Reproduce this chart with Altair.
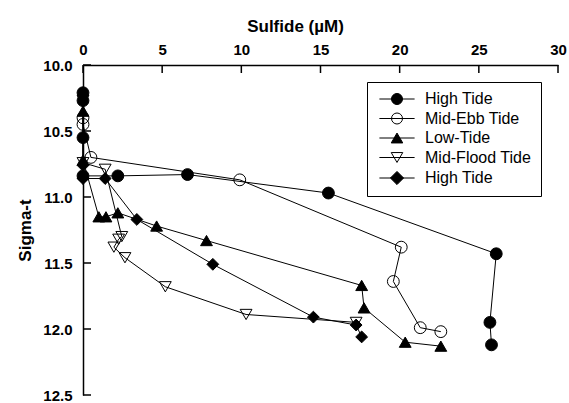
import altair as alt
import pandas as pd

# ---------------- data ----------------
series_ids = ["s1", "s2", "s3", "s4", "s5"]
series_names = ["High Tide", "Mid-Ebb Tide", "Low-Tide", "Mid-Flood Tide", "High Tide"]

ht1_x = [0, 0, 0, 0, 2.2, 6.6, 15.5, 26.1, 25.7, 25.8]
ht1_y = [10.21, 10.27, 10.55, 10.84, 10.84, 10.83, 10.97, 11.43, 11.95, 12.12]

ebb_x = [0, 0, 0.5, 9.9, 20.1, 19.6, 21.3, 22.6]
ebb_y = [10.40, 10.45, 10.70, 10.87, 11.38, 11.64, 11.99, 12.02]

low_x = [0, 0, 1.0, 1.45, 2.2, 4.65, 7.8, 17.6, 17.75, 20.35, 22.6]
low_y = [10.35, 10.72, 11.15, 11.15, 11.12, 11.22, 11.33, 11.67, 11.84, 12.10, 12.13]

flood_x = [0, 0, 1.4, 2.45, 2.25, 1.95, 2.65, 5.2, 10.3, 17.25]
flood_y = [10.27, 10.74, 10.79, 11.30, 11.32, 11.38, 11.46, 11.68, 11.89, 11.95]

ht2_x = [0, 0, 1.4, 3.4, 8.2, 14.55, 17.25, 17.6]
ht2_y = [10.76, 10.86, 10.86, 11.17, 11.51, 11.91, 11.97, 12.06]

x_ticks = [0, 5, 10, 15, 20, 25, 30]
y_ticks = [10.0, 10.5, 11.0, 11.5, 12.0, 12.5]

# ---------------- build table ----------------
rows = []
for sid, xs, ys in zip(series_ids,
                       [ht1_x, ebb_x, low_x, flood_x, ht2_x],
                       [ht1_y, ebb_y, low_y, flood_y, ht2_y]):
    for i, (xv, yv) in enumerate(zip(xs, ys)):
        rows.append({"sid": sid, "idx": i, "sulfide": xv, "sigma": yv})
df = pd.DataFrame(rows)

FONT = "Liberation Sans"

xscale = alt.Scale(domain=[0, 30], nice=False, zero=False)
yscale = alt.Scale(domain=[10, 12.5], reverse=True, nice=False, zero=False)

shape_range = ["circle", "circle", "triangle-up", "triangle-down", "diamond"]
fill_range = ["black", "transparent", "black", "transparent", "black"]
stroke_range = ["black"] * 5
size_range = [140, 140, 170, 170, 160]

L = 3.2
legend_paths = [
    f"M{-L},0L{L},0M1,0A1,1,0,1,1,-1,0A1,1,0,1,1,1,0Z",
    f"M{-L},0L{L},0M1,0A1,1,0,1,1,-1,0A1,1,0,1,1,1,0Z",
    f"M{-L},0L{L},0M0,-0.9L1.05,0.9L-1.05,0.9Z",
    f"M{-L},0L{L},0M0,0.9L1.05,-0.9L-1.05,-0.9Z",
    f"M{-L},0L{L},0M-1.2,0L0,-1.2L1.2,0L0,1.2Z",
]

label_expr = ""
for sid, name in zip(series_ids, series_names):
    label_expr += f"datum.label == '{sid}' ? '{name}' : "
label_expr += "datum.label"

xaxis = alt.Axis(orient="top", title="Sulfide (µM)", values=x_ticks, format="d",
                 ticks=False, grid=False, labelFlush=False, labelOverlap=False,
                 labelFont=FONT, labelFontWeight="bold", labelFontSize=15, labelColor="black",
                 labelPadding=8, titleFont=FONT, titleFontWeight="bold", titleFontSize=17,
                 titleColor="black", titlePadding=7, titleX=212,
                 domainColor="black", domainWidth=1.5)
yaxis = alt.Axis(orient="left", title="Sigma-t", values=y_ticks, format=".1f",
                 ticks=False, grid=False, labelFlush=False, labelOverlap=False,
                 labelFont=FONT, labelFontWeight="bold", labelFontSize=15, labelColor="black",
                 labelPadding=11, titleFont=FONT, titleFontWeight="bold", titleFontSize=17,
                 titleColor="black", titlePadding=8,
                 domainColor="black", domainWidth=1.5)

base = alt.Chart(df)

lines = base.mark_line(color="black", strokeWidth=1).encode(
    x=alt.X("sulfide:Q", scale=xscale, axis=xaxis),
    y=alt.Y("sigma:Q", scale=yscale, axis=yaxis),
    detail="sid:N",
    order="idx:Q",
)

points = base.mark_point(filled=True, stroke="black", strokeWidth=1, opacity=1).encode(
    x=alt.X("sulfide:Q", scale=xscale),
    y=alt.Y("sigma:Q", scale=yscale),
    shape=alt.Shape("sid:N", scale=alt.Scale(domain=series_ids, range=shape_range), legend=None),
    fill=alt.Fill("sid:N", scale=alt.Scale(domain=series_ids, range=fill_range), legend=None),
    size=alt.Size("sid:N", scale=alt.Scale(domain=series_ids, range=size_range), legend=None),
)

leg = alt.Legend(title=None, orient="none", legendX=284, legendY=17,
                 symbolSize=121, symbolStrokeWidth=1, symbolStrokeColor="black",
                 symbolOpacity=1, symbolOffset=13,
                 labelFont=FONT, labelFontSize=16, labelColor="black",
                 labelExpr=label_expr, labelOffset=20, rowPadding=3.5, padding=9,
                 strokeColor="black", fillColor="white", cornerRadius=0)

legend_layer = base.mark_point(filled=True, stroke="black", strokeWidth=1, opacity=0).encode(
    x=alt.X("sulfide:Q", scale=xscale),
    y=alt.Y("sigma:Q", scale=yscale),
    shape=alt.Shape("sid:N", scale=alt.Scale(domain=series_ids, range=legend_paths), legend=leg),
    fill=alt.Fill("sid:N", scale=alt.Scale(domain=series_ids, range=fill_range), legend=leg),
    stroke=alt.Stroke("sid:N", scale=alt.Scale(domain=series_ids, range=stroke_range), legend=leg),
)

xt = alt.Chart(pd.DataFrame({"t": x_ticks})).mark_rule(color="black", strokeWidth=1.5).encode(
    x=alt.X("t:Q", scale=xscale), y=alt.value(0), y2=alt.value(8))
yt = alt.Chart(pd.DataFrame({"t": y_ticks})).mark_rule(color="black", strokeWidth=1.5).encode(
    y=alt.Y("t:Q", scale=yscale), x=alt.value(0), x2=alt.value(8))

chart = alt.layer(lines, points, legend_layer, xt, yt).resolve_scale(
    shape="independent", fill="independent", size="independent", stroke="independent"
).properties(
    width=475, height=330,
    padding={"left": 83, "top": 65, "right": 11, "bottom": 8},
    autosize=alt.AutoSizeParams(type="none"),
).configure_view(stroke=None)

chart.save("out.html", embed_options={"renderer": "svg", "actions": False})
